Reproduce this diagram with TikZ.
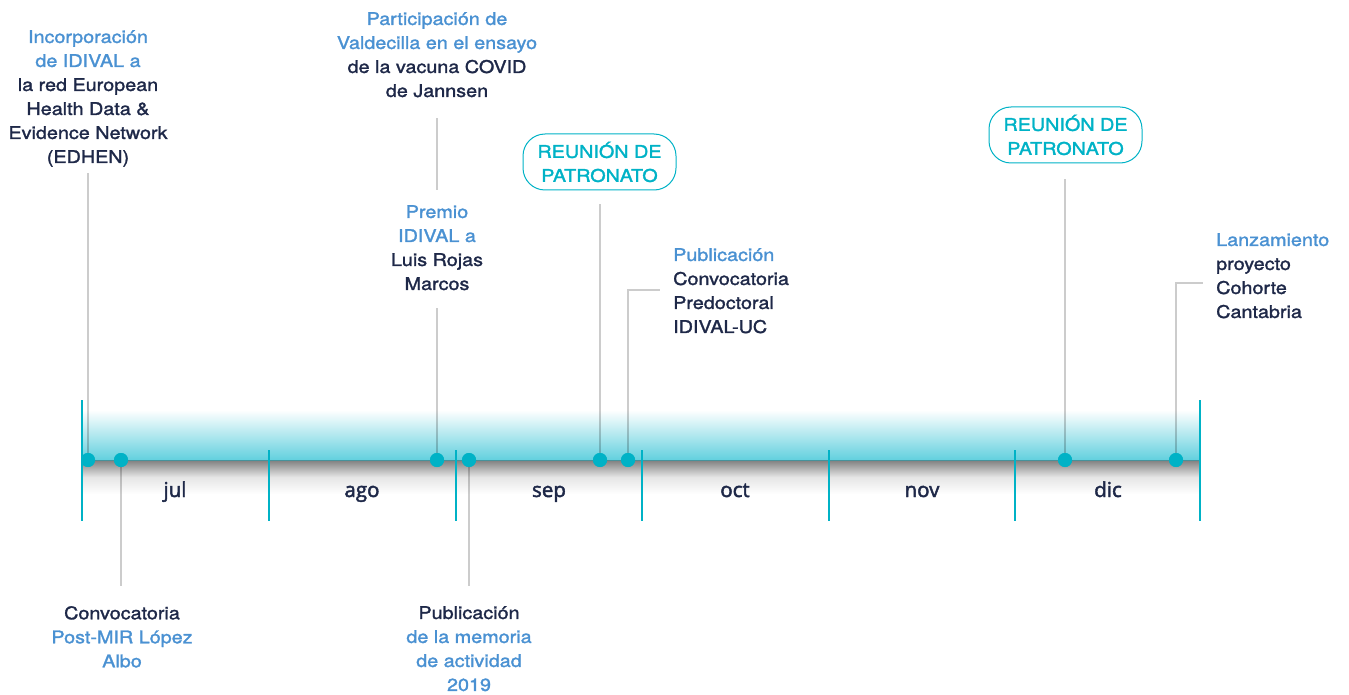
\documentclass[tikz,border=0pt]{standalone}
\usepackage{fontspec}
\setmainfont{TeX Gyre Heros}
\newfontfamily\evfont[FakeStretch=1.13,FakeBold=1.6]{TeX Gyre Heros}
\newfontfamily\monthfont[FakeBold=2.2]{Open Sans}
\definecolor{evblue}{RGB}{74,145,210}
\definecolor{evdark}{RGB}{30,40,72}
\definecolor{evcyan}{RGB}{0,178,198}
\definecolor{bandcyan}{RGB}{98,208,222}
\begin{document}
\begin{tikzpicture}[x=1pt,y=-1pt,
  evtext/.style={inner sep=0pt, font=\evfont\fontsize{17.5}{24}\selectfont, text=evdark},
  cbox/.style={draw=evcyan, line width=1pt, rounded corners=22pt, minimum width=153pt, minimum height=56pt, inner sep=0pt, align=center, font=\evfont\fontsize{17.5}{24}\selectfont, text=evcyan},
  dot/.style={circle, fill=evcyan, minimum size=14pt, inner sep=0pt},
  conn/.style={draw=black, draw opacity=0.2, line width=2pt},
  tick/.style={draw=evcyan, line width=2pt},
  month/.style={font=\monthfont\fontsize{20.5}{24}\selectfont, text=evdark, inner sep=0pt}
]
\useasboundingbox (0,0) rectangle (1349,695);
% band
\shade[top color=white, bottom color=bandcyan] (82,410) rectangle (1200,460);
\shade[top color=black!50, bottom color=white, middle color=black!10] (82,460) rectangle (1200,494);
\draw[draw=black!30!bandcyan, line width=1pt] (82,460) -- (1200,460);
% ticks
\draw[tick] (82,400) -- (82,521);
\draw[tick] (1200,400) -- (1200,521);
\foreach \x in {269,456,642,829,1015} \draw[tick] (\x,450) -- (\x,521);
% months
\node[month, anchor=base] (mjul) at (175,497) {jul};
\node[month, anchor=base] (mago) at (362,497) {ago};
\node[month, anchor=base] (msep) at (549,497) {sep};
\node[month, anchor=base] (moct) at (735,497) {oct};
\node[month, anchor=base] (mnov) at (922,497) {nov};
\node[month, anchor=base] (mdic) at (1108,497) {dic};
% texts
\node[evtext, anchor=north, align=center] (t1) at (88,30) {\textcolor{evblue}{Incorporación}\\\textcolor{evblue}{de IDIVAL a}\\la red European\\Health Data \&\\Evidence Network\\(EDHEN)};
\node[evtext, anchor=north, align=center] (t2) at (437,12) {\textcolor{evblue}{Participación de}\\\textcolor{evblue}{Valdecilla en el ensayo}\\de la vacuna COVID\\de Jannsen};
\node[evtext, anchor=north, align=center] (t3) at (437,205) {\textcolor{evblue}{Premio}\\\textcolor{evblue}{IDIVAL a}\\Luis Rojas\\Marcos};
\node[cbox] (b1) at (599.5,162) {REUNIÓN DE\\PATRONATO};
\node[evtext, anchor=north west, align=left] (t5) at (673,248) {\textcolor{evblue}{Publicación}\\Convocatoria\\Predoctoral\\IDIVAL-UC};
\node[cbox] (b2) at (1065.5,135) {REUNIÓN DE\\PATRONATO};
\node[evtext, anchor=north west, align=left] (t7) at (1216,233) {\textcolor{evblue}{Lanzamiento}\\proyecto\\Cohorte\\Cantabria};
\node[evtext, anchor=north, align=center] (t8) at (122,606) {Convocatoria\\\textcolor{evblue}{Post-MIR López}\\\textcolor{evblue}{Albo}};
\node[evtext, anchor=north, align=center] (t9) at (469,606) {Publicación\\\textcolor{evblue}{de la memoria}\\\textcolor{evblue}{de actividad}\\\textcolor{evblue}{2019}};
% dots
\node[dot] (d1) at (88,460) {};
\node[dot] (d2) at (121,460) {};
\node[dot] (d3) at (437,460) {};
\node[dot] (d4) at (469,460) {};
\node[dot] (d5) at (600,460) {};
\node[dot] (d6) at (628,460) {};
\node[dot] (d7) at (1065,460) {};
\node[dot] (d8) at (1176,460) {};
\coordinate (c6) at (660,290);
\coordinate (c8) at (1203,283);
% connectors
\draw[conn, shorten >=6pt] (d1.center) -- (d1 |- t1.south);
\draw[conn, shorten >=20pt] (d2.center) -- (d2 |- t8.north);
\draw[conn, shorten >=18pt] (d3.center) -- (d3 |- t3.south);
\draw[conn, shorten <=21pt, shorten >=15pt] (t2.south) -- (t3.north);
\draw[conn, shorten >=20pt] (d4.center) -- (d4 |- t9.north);
\draw[conn, shorten >=14pt] (d5.center) -- (d5 |- b1.south);
\draw[conn] (d6.center) |- (c6);
\draw[conn, shorten >=16pt] (d7.center) -- (d7 |- b2.south);
\draw[conn] (d8.center) |- (c8);
\foreach \d in {d1,d2,d3,d4,d5,d6,d7,d8} \node[dot] at (\d) {};
\end{tikzpicture}
\end{document}
